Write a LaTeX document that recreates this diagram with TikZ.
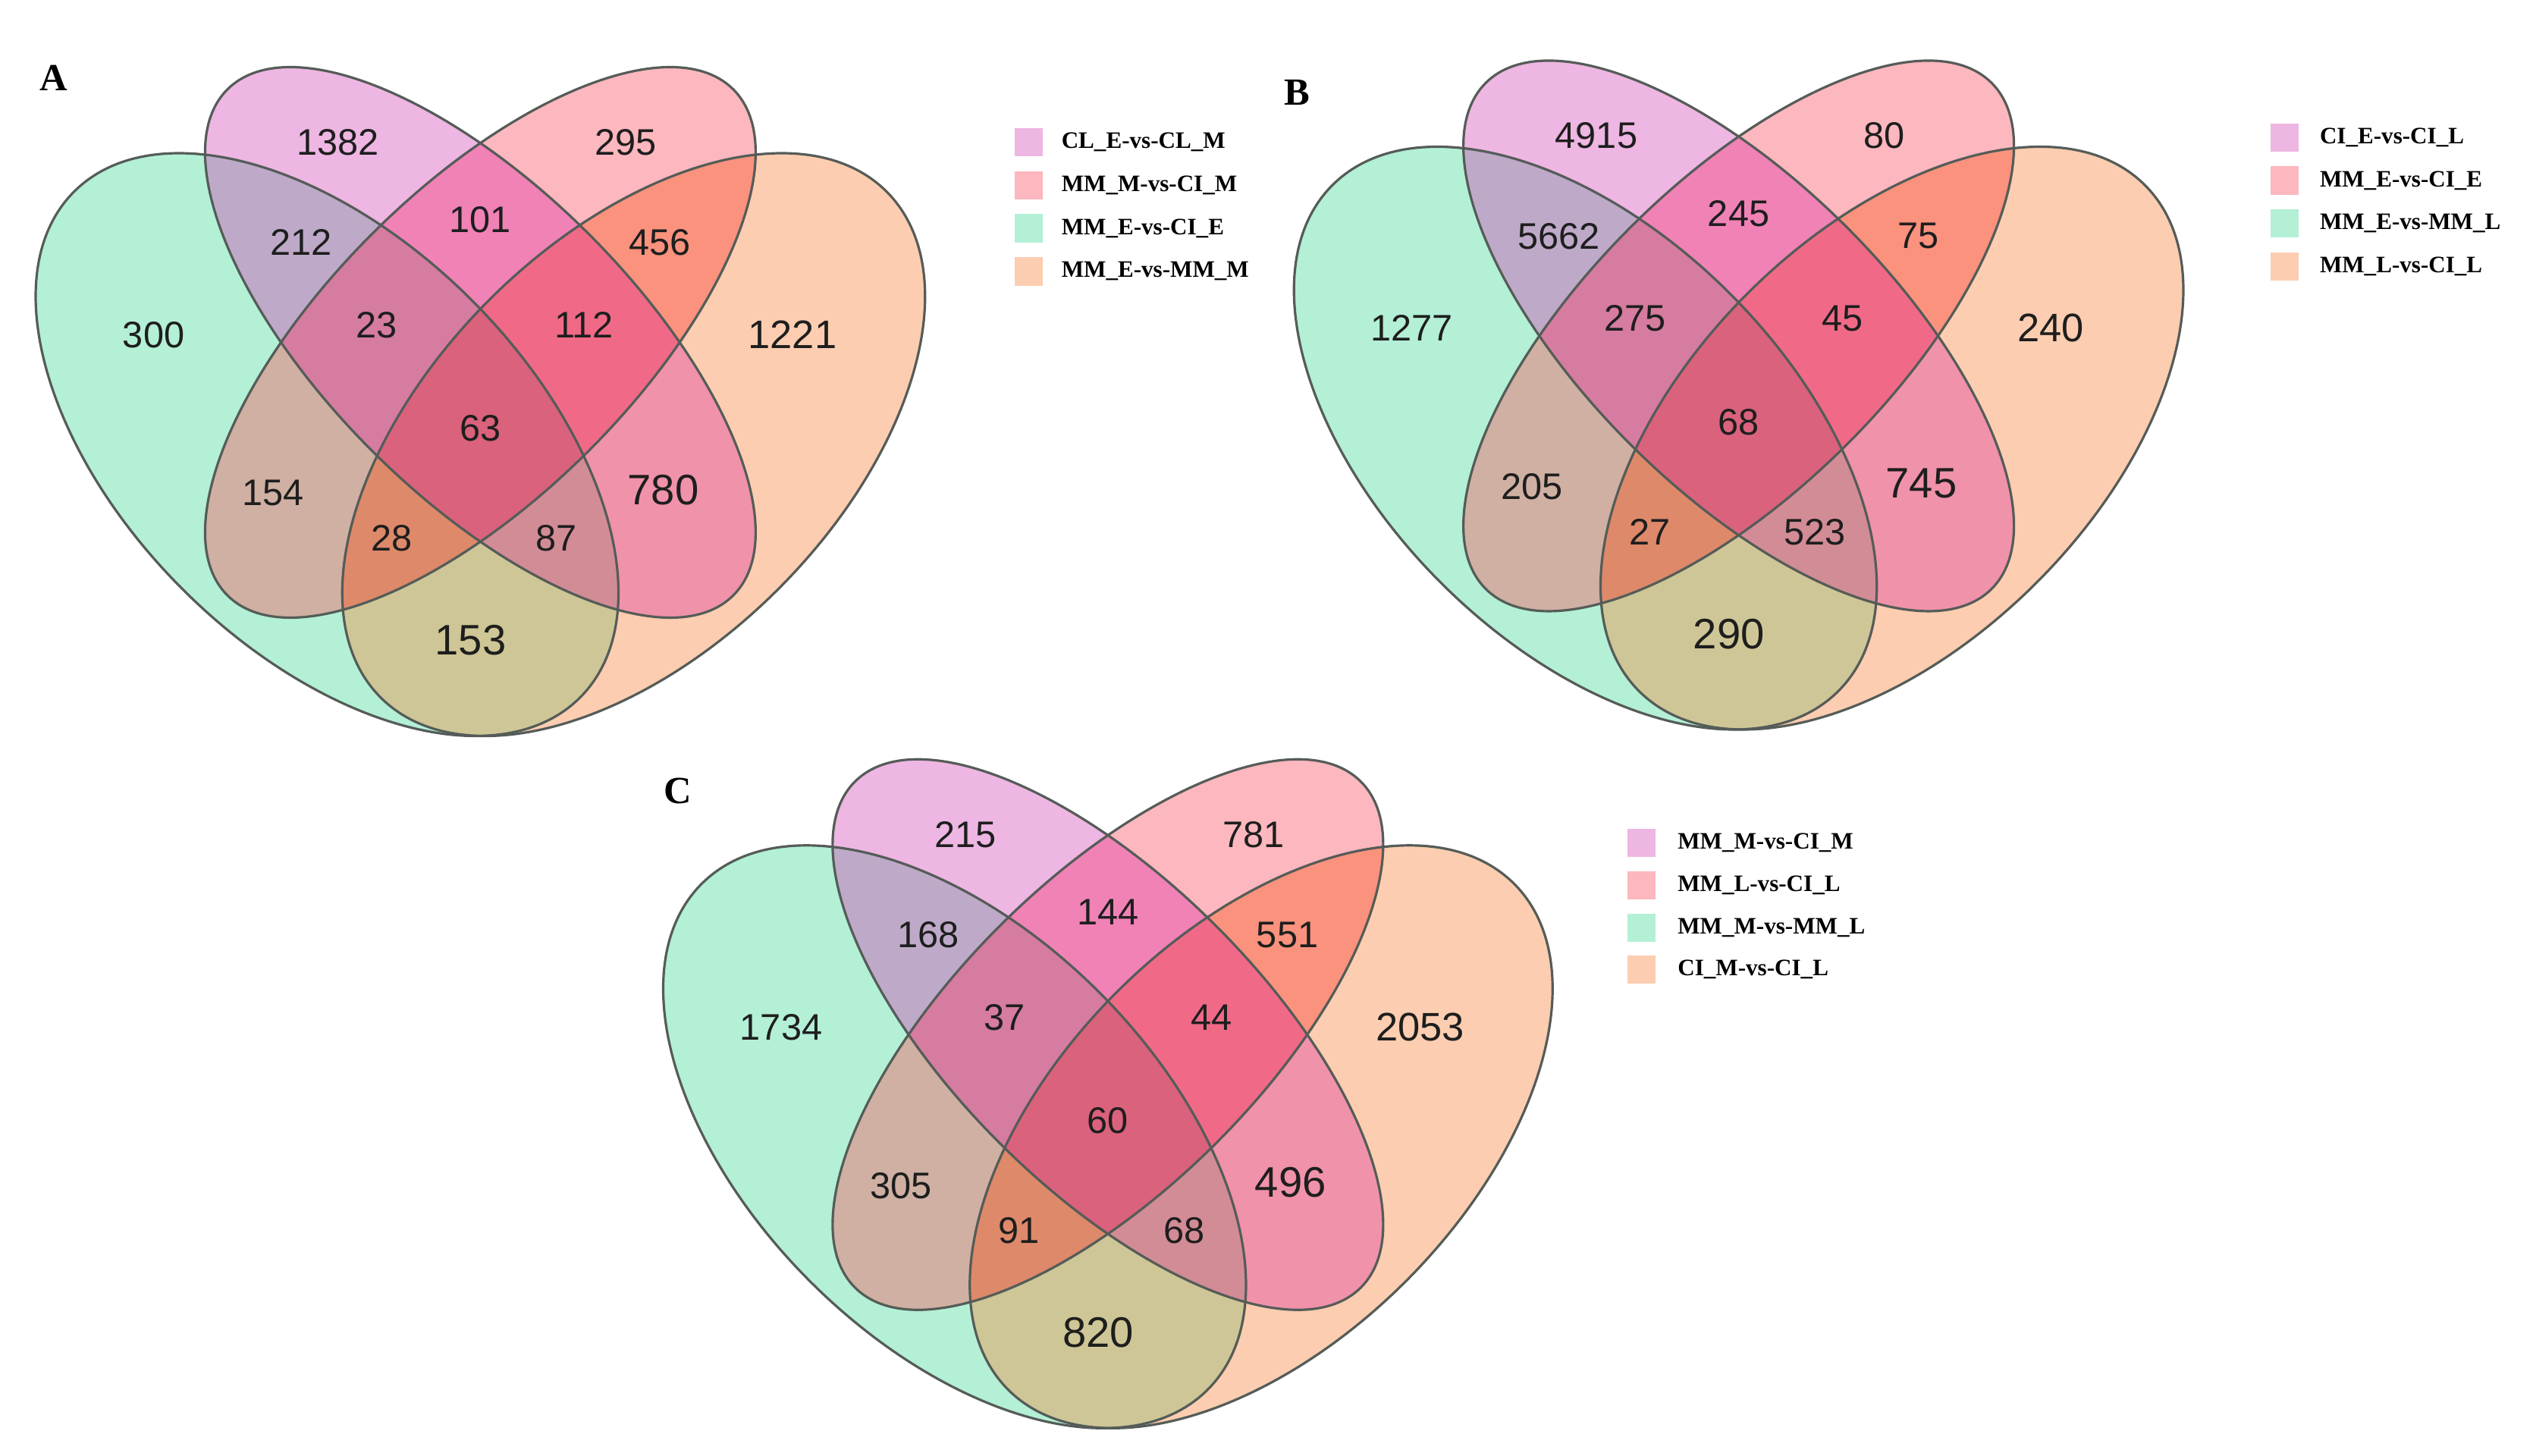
\documentclass[tikz,border=0pt]{standalone}
\usepackage{fontspec}
\setmainfont{Liberation Serif}
\newfontfamily\numfont{Liberation Sans}
\definecolor{cG}{RGB}{179,240,214}
\definecolor{cO}{RGB}{252,205,176}
\definecolor{cP}{RGB}{238,182,226}
\definecolor{cR}{RGB}{253,183,190}
\definecolor{cPR}{RGB}{240,130,182}
\definecolor{cPG}{RGB}{190,170,200}
\definecolor{cRO}{RGB}{250,146,125}
\definecolor{cRG}{RGB}{207,176,162}
\definecolor{cPO}{RGB}{240,146,170}
\definecolor{cGO}{RGB}{206,198,150}
\definecolor{cPRG}{RGB}{214,124,160}
\definecolor{cPRO}{RGB}{240,106,136}
\definecolor{cRGO}{RGB}{222,137,106}
\definecolor{cPGO}{RGB}{210,140,150}
\definecolor{cAll}{RGB}{218,98,124}
\definecolor{olc}{RGB}{85,92,88}
\definecolor{numc}{RGB}{30,30,30}
\newcommand\vcG{\clip[rotate around={135:(-0.15,0.285)}] (-0.15,0.285) ellipse (0.35 and 0.2);}
\newcommand\vcO{\clip[rotate around={45:(0.15,0.285)}] (0.15,0.285) ellipse (0.35 and 0.2);}
\newcommand\vcP{\clip[rotate around={135:(0,0.385)}] (0,0.385) ellipse (0.35 and 0.15);}
\newcommand\vcR{\clip[rotate around={45:(0,0.385)}] (0,0.385) ellipse (0.35 and 0.15);}
\newcommand\vRg[2]{\begin{scope}#2\fill[#1] (-0.6,-0.1) rectangle (0.6,0.8);\end{scope}}
\newcommand\vOutlines{%
\draw[vline, rotate around={135:(-0.15,0.285)}] (-0.15,0.285) ellipse (0.35 and 0.2);
\draw[vline, rotate around={45:(0.15,0.285)}] (0.15,0.285) ellipse (0.35 and 0.2);
\draw[vline, rotate around={135:(0,0.385)}] (0,0.385) ellipse (0.35 and 0.15);
\draw[vline, rotate around={45:(0,0.385)}] (0,0.385) ellipse (0.35 and 0.15);}
\newcommand\vFills{%
\vRg{cG}{\vcG}\vRg{cO}{\vcO}\vRg{cP}{\vcP}\vRg{cR}{\vcR}%
\vRg{cPR}{\vcP\vcR}\vRg{cPG}{\vcP\vcG}\vRg{cPO}{\vcP\vcO}%
\vRg{cRG}{\vcR\vcG}\vRg{cRO}{\vcR\vcO}\vRg{cGO}{\vcG\vcO}%
\vRg{cPRG}{\vcP\vcR\vcG}\vRg{cPRO}{\vcP\vcR\vcO}%
\vRg{cPGO}{\vcP\vcG\vcO}\vRg{cRGO}{\vcR\vcG\vcO}%
\vRg{cAll}{\vcP\vcR\vcG\vcO}%
\vOutlines}
\tikzset{
  num/.style={font=\numfont\fontsize{13}{15}\selectfont, text=numc, inner sep=0pt},
  numM/.style={num, font=\numfont\fontsize{14}{16}\selectfont},
  numL/.style={num, font=\numfont\fontsize{15}{17}\selectfont},
  vline/.style={draw=olc, line width=0.85pt},
  legsq/.style={minimum size=0.35cm, inner sep=0pt, draw=none},
  legtx/.style={anchor=west, font=\bfseries\fontsize{8.3}{10}\selectfont, inner sep=0pt},
  plet/.style={font=\bfseries\fontsize{13.5}{16}\selectfont, inner sep=0pt}
}
\begin{document}
\begin{tikzpicture}[x=0.02cm, y=0.02cm]
\useasboundingbox[fill=white] (0,0) rectangle (1568,-900);

% ---------- Panel A ----------
\begin{scope}[shift={(297,-455)}, scale=632]
\vFills
\end{scope}
\begin{scope}[shift={(297,-455)}]
\node[num] (A-p) at (-88,367) {1382};
\node[num] (A-r) at (90,367) {295};
\node[num] (A-pr) at (0,319) {101};
\node[num] (A-pg) at (-111,305) {212};
\node[num] (A-ro) at (111,305) {456};
\node[num] (A-g) at (-202,248) {300};
\node[numM] (A-o) at (193,248) {1221};
\node[num] (A-prg) at (-64,254) {23};
\node[num] (A-pro) at (64,254) {112};
\node[num] (A-all) at (0,190) {63};
\node[num] (A-rg) at (-128,150) {154};
\node[numL] (A-po) at (113,152) {780};
\node[num] (A-rgo) at (-55,122) {28};
\node[num] (A-pgo) at (47,122) {87};
\node[numL] (A-go) at (-6,59) {153};
\end{scope}
\node[plet] (A-lab) at (33,-48) {A};
\node[legsq, fill=cP] (A-k1) at (636,-88) {};
\node[legsq, fill=cR] (A-k2) at (636,-114.6) {};
\node[legsq, fill=cG] (A-k3) at (636,-141.2) {};
\node[legsq, fill=cO] (A-k4) at (636,-167.8) {};
\node[legtx] (A-t1) at (656,-88) {CL\_E-vs-CL\_M};
\node[legtx] (A-t2) at (656,-114.6) {MM\_M-vs-CI\_M};
\node[legtx] (A-t3) at (656,-141.2) {MM\_E-vs-CI\_E};
\node[legtx] (A-t4) at (656,-167.8) {MM\_E-vs-MM\_M};

% ---------- Panel B ----------
\begin{scope}[shift={(1075,-451)}, scale=632]
\vFills
\end{scope}
\begin{scope}[shift={(1075,-451)}]
\node[num] (B-p) at (-88,367) {4915};
\node[num] (B-r) at (90,367) {80};
\node[num] (B-pr) at (0,319) {245};
\node[num] (B-pg) at (-111,305) {5662};
\node[num] (B-ro) at (111,305) {75};
\node[num] (B-g) at (-202,248) {1277};
\node[numM] (B-o) at (193,248) {240};
\node[num] (B-prg) at (-64,254) {275};
\node[num] (B-pro) at (64,254) {45};
\node[num] (B-all) at (0,190) {68};
\node[num] (B-rg) at (-128,150) {205};
\node[numL] (B-po) at (113,152) {745};
\node[num] (B-rgo) at (-55,122) {27};
\node[num] (B-pgo) at (47,122) {523};
\node[numL] (B-go) at (-6,59) {290};
\end{scope}
\node[plet] (B-lab) at (802,-57) {B};
\node[legsq, fill=cP] (B-k1) at (1412.5,-85.2) {};
\node[legsq, fill=cR] (B-k2) at (1412.5,-111.6) {};
\node[legsq, fill=cG] (B-k3) at (1412.5,-138.2) {};
\node[legsq, fill=cO] (B-k4) at (1412.5,-164.9) {};
\node[legtx] (B-t1) at (1434,-85.2) {CI\_E-vs-CI\_L};
\node[legtx] (B-t2) at (1434,-111.6) {MM\_E-vs-CI\_E};
\node[legtx] (B-t3) at (1434,-138.2) {MM\_E-vs-MM\_L};
\node[legtx] (B-t4) at (1434,-164.9) {MM\_L-vs-CI\_L};

% ---------- Panel C ----------
\begin{scope}[shift={(685,-883)}, scale=632]
\vFills
\end{scope}
\begin{scope}[shift={(685,-883)}]
\node[num] (C-p) at (-88,367) {215};
\node[num] (C-r) at (90,367) {781};
\node[num] (C-pr) at (0,319) {144};
\node[num] (C-pg) at (-111,305) {168};
\node[num] (C-ro) at (111,305) {551};
\node[num] (C-g) at (-202,248) {1734};
\node[numM] (C-o) at (193,248) {2053};
\node[num] (C-prg) at (-64,254) {37};
\node[num] (C-pro) at (64,254) {44};
\node[num] (C-all) at (0,190) {60};
\node[num] (C-rg) at (-128,150) {305};
\node[numL] (C-po) at (113,152) {496};
\node[num] (C-rgo) at (-55,122) {91};
\node[num] (C-pgo) at (47,122) {68};
\node[numL] (C-go) at (-6,59) {820};
\end{scope}
\node[plet] (C-lab) at (419,-489) {C};
\node[legsq, fill=cP] (C-k1) at (1015,-521.3) {};
\node[legsq, fill=cR] (C-k2) at (1015,-547.3) {};
\node[legsq, fill=cG] (C-k3) at (1015,-573.6) {};
\node[legsq, fill=cO] (C-k4) at (1015,-599.4) {};
\node[legtx] (C-t1) at (1037,-521.3) {MM\_M-vs-CI\_M};
\node[legtx] (C-t2) at (1037,-547.3) {MM\_L-vs-CI\_L};
\node[legtx] (C-t3) at (1037,-573.6) {MM\_M-vs-MM\_L};
\node[legtx] (C-t4) at (1037,-599.4) {CI\_M-vs-CI\_L};
\end{tikzpicture}
\end{document}
